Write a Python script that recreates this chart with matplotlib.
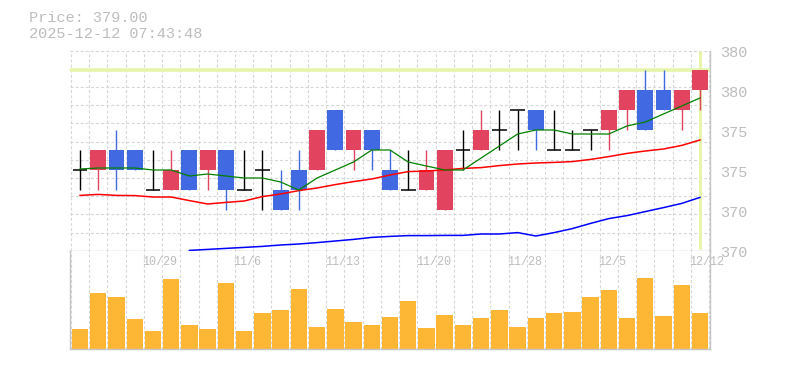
import matplotlib
matplotlib.use("Agg")
import matplotlib.pyplot as plt
import matplotlib.transforms as mtransforms
from matplotlib.patches import Rectangle
import numpy as np

# ---------------- data ----------------
opens  = [374, 374, 375, 375, 373, 373, 375, 374, 375, 373, 374, 373, 374, 374, 377, 375, 376, 374,
          373, 373, 372, 375, 375, 376, 377, 377, 375, 375, 376, 376, 377, 378, 378, 377, 378]
highs  = [375, 375, 376, 375, 375, 375, 375, 375, 375, 375, 375, 374, 375, 376, 377, 376, 376, 375,
          375, 375, 375, 376, 377, 377, 377, 377, 377, 376, 376, 377, 378, 379, 379, 378, 379]
lows   = [373, 373, 373, 374, 373, 373, 373, 373, 372, 373, 372, 372, 372, 374, 375, 374, 374, 373,
          373, 373, 372, 374, 375, 375, 375, 375, 375, 375, 375, 375, 376, 376, 377, 376, 377]
closes = [374, 375, 374, 374, 373, 374, 373, 375, 373, 373, 374, 372, 373, 376, 375, 376, 375, 373,
          373, 374, 375, 375, 376, 376, 377, 376, 375, 375, 376, 377, 378, 376, 377, 378, 379]

ma_short = [374.05, 374.1, 374.1, 374.1, 374.0, 374.0, 373.7, 373.8, 373.7, 373.6, 373.6, 373.4,
            373.0, 373.6, 374.0, 374.4, 375.0, 375.0, 374.4, 374.2, 374.0, 374.0, 374.6, 375.2,
            375.8, 376.0, 376.0, 375.8, 375.8, 375.8, 376.2, 376.4, 376.8, 377.2, 377.6]
ma_mid = [372.73, 372.78, 372.73, 372.72, 372.65, 372.65, 372.47, 372.3, 372.38, 372.45, 372.67,
          372.8, 372.97, 373.1, 373.27, 373.42, 373.55, 373.75, 373.92, 373.95, 374.0, 374.08,
          374.12, 374.22, 374.3, 374.35, 374.38, 374.42, 374.53, 374.67, 374.83, 374.95, 375.05,
          375.23, 375.5]
ma_long = [np.nan] * 6 + [369.98, 370.03, 370.08, 370.13, 370.18, 370.25, 370.3, 370.37, 370.45,
                          370.53, 370.63, 370.68, 370.72, 370.72, 370.73, 370.73, 370.8, 370.8,
                          370.87, 370.7, 370.87, 371.07, 371.33, 371.57, 371.72, 371.92, 372.12,
                          372.33, 372.63]

volume = [20, 56, 52, 30, 18, 70, 24, 20, 66, 18, 36, 39, 60, 22, 40, 27, 24, 32, 48, 21,
          34, 24, 31, 39, 22, 31, 36, 37, 52, 59, 31, 71, 33, 64, 36]

date_tick_pos = [4, 9, 14, 19, 24, 29, 34]
date_tick_labels = ["10/29", "11/6", "11/13", "11/20", "11/28", "12/5", "12/12"]

price_label_vals = [379.87, 377.87, 375.87, 373.87, 371.87, 369.87]
price_label_text = ["380", "380", "375", "375", "370", "370"]

current_price = 379.0
title_lines = ["Price: 379.00", "2025-12-12 07:43:48"]

# ---------------- styles ----------------
W, H = 785, 370
RED = "#e24460"
BLUE = "#4169e1"
BLACK = "#000000"
VOLC = "#fdb734"
GRID = "#d6d6d6"
SPINE = "#c4c4c4"
TXT = "#bdbdbd"
HL = "#e6f5aa"
FONT = "Liberation Mono"

fig = plt.figure(figsize=(W / 100, H / 100), dpi=100)
fig.patch.set_facecolor("white")

def fx(px):
    return px / W

def fy(py):
    return 1 - py / H

L, R = 70, 710
PT, PB = 50.5, 250.7
VB = 349.0
ax1 = fig.add_axes([fx(L), fy(PB), fx(R - L), (PB - PT) / H])
ax2 = fig.add_axes([fx(L), fy(VB), fx(R - L), (VB - PB) / H])

n = len(closes)
x = np.arange(n)
xlim = (-0.55, n - 1 + 0.55)
ylim = (369.965, 379.975)

for ax in (ax1, ax2):
    ax.set_xlim(*xlim)
    ax.set_xticks([])
    ax.set_yticks([])
    ax.set_facecolor("white")
    for s in ax.spines.values():
        s.set_color(SPINE)
        s.set_linewidth(1.0)

ax1.set_ylim(*ylim)
ax1.spines["top"].set_visible(False)
ax1.spines["left"].set_visible(False)
ax2.spines["top"].set_visible(False)

dash = (0, (2.6, 2.0))
# grid
for gy in np.linspace(ylim[0], ylim[1], 12)[1:]:
    ax1.axhline(gy, color=GRID, lw=0.8, linestyle=dash, zorder=0, clip_on=False)
for gx in np.arange(-0.5, n, 1.0):
    ax1.axvline(gx, color=GRID, lw=0.8, linestyle=dash, zorder=0)
    ax2.axvline(gx, color=GRID, lw=0.8, linestyle=dash, zorder=0)

# current price highlight lines
ax1.axhline(current_price, color=HL, lw=2.6, zorder=1)
ax1.plot([x[-1], x[-1]], [ylim[0] + 0.1, ylim[1]], color=HL, lw=2.2, zorder=1,
         solid_capstyle="butt")

# candles
bw = 0.87
for i in range(n):
    o, h, l, c = opens[i], highs[i], lows[i], closes[i]
    if c > o:
        col = RED
    elif c < o:
        col = BLUE
    else:
        col = BLACK
    ax1.plot([i, i], [l, h], color=col, lw=1.0, zorder=3, solid_capstyle="butt")
    if c == o:
        ax1.plot([i - bw / 2 + 0.03, i + bw / 2 - 0.03], [o, o], color=col, lw=1.1, zorder=3,
                 solid_capstyle="butt")
    else:
        ax1.add_patch(Rectangle((i - bw / 2, min(o, c)), bw, abs(c - o), facecolor=col,
                                edgecolor="none", zorder=4))

# moving averages
ax1.plot(x, ma_long, color="#0000ff", lw=1.1, zorder=5)
ax1.plot(x, ma_mid, color="#ff0000", lw=1.1, zorder=5)
ax1.plot(x, ma_short, color="#008000", lw=0.9, zorder=5)

# price labels
tr = mtransforms.blended_transform_factory(ax1.transAxes, ax1.transData)
for v, t in zip(price_label_vals, price_label_text):
    ax1.text(1 + 10 / (R - L), v, t, transform=tr, ha="left", va="center",
             color=TXT, fontsize=11, family=FONT, clip_on=False)

# volume
vmax = max(volume)
ax2.set_ylim(0, vmax * (VB - PB) / 71.0)
ax2.bar(x, volume, width=0.9, color=VOLC, zorder=2)

tr2 = mtransforms.blended_transform_factory(ax2.transData, ax2.transAxes)
for p, t in zip(date_tick_pos, date_tick_labels):
    ax2.text(p - 0.58, 1 - 11.5 / (VB - PB), t, transform=tr2, ha="left", va="center",
             color=TXT, fontsize=8.5, family=FONT, clip_on=False, zorder=6)

# header text
fig.text(fx(29), fy(17.5), title_lines[0], ha="left", va="center", color=TXT,
         fontsize=11, family=FONT)
fig.text(fx(29), fy(33.5), title_lines[1], ha="left", va="center", color=TXT,
         fontsize=11, family=FONT)

fig.savefig("out.png", dpi=100, facecolor="white")
